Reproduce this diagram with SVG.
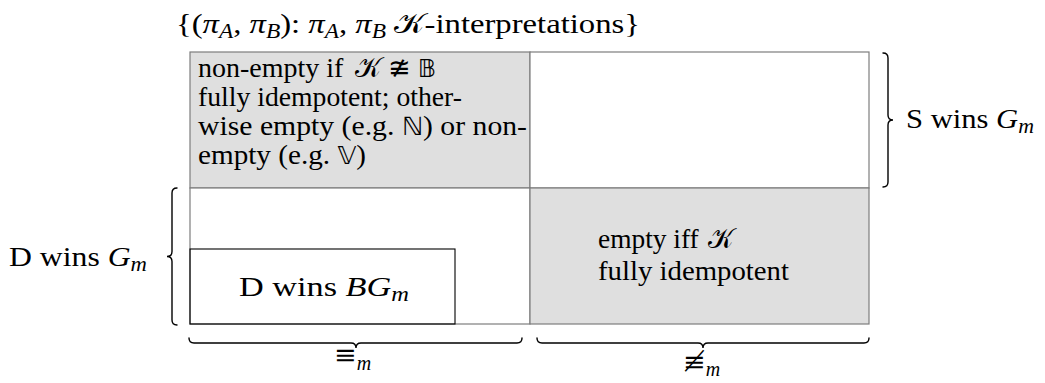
<svg xmlns="http://www.w3.org/2000/svg" width="1045" height="383" viewBox="0 0 1045 383">
<style>
text { font-family: "Liberation Serif", "DejaVu Serif", serif; font-size: 28px; fill: #000; }
.i { font-style: italic; }
.sub { font-size: 20px; font-style: italic; }
.bb { font-family: "DejaVu Sans", "Noto Sans", sans-serif; font-size: 25px; }
.cal { font-family: "DejaVu Serif", "DejaVu Sans", serif; font-style: normal; }
.sym { font-family: "DejaVu Serif", "DejaVu Sans", serif; font-size: 27px; }
.cell { stroke: #7d7d7d; stroke-width: 1.2; }
.gray { fill: #dfdfdf; }
.white { fill: #ffffff; }
.inner { fill: none; stroke: #000; stroke-width: 1.1; }
.brace { fill: none; stroke: #000; stroke-width: 1.4; stroke-linecap: round; }
</style>

<g id="title">
<text x="176" y="33" textLength="464" lengthAdjust="spacingAndGlyphs">{(<tspan class="i">π</tspan><tspan class="sub" dy="5">A</tspan><tspan dy="-5">, </tspan><tspan class="i">π</tspan><tspan class="sub" dy="5">B</tspan><tspan dy="-5">): </tspan><tspan class="i">π</tspan><tspan class="sub" dy="5">A</tspan><tspan dy="-5">, </tspan><tspan class="i">π</tspan><tspan class="sub" dy="5">B</tspan><tspan dy="-5"> </tspan><tspan class="cal">𝒦</tspan>-interpretations}</text>
</g>

<g id="cell-tl">
<rect class="cell gray" x="190" y="52" width="340" height="136"/>
<text x="198" y="77">non-empty if</text>
<text x="355" y="77"><tspan class="cal">𝒦</tspan> <tspan class="sym">≇</tspan> <tspan class="bb">𝔹</tspan></text>
<text x="198" y="106" textLength="264" lengthAdjust="spacingAndGlyphs">fully idempotent; other-</text>
<text x="198" y="135" textLength="329" lengthAdjust="spacingAndGlyphs">wise empty (e.g. <tspan class="bb">ℕ</tspan>) or non-</text>
<text x="198" y="164" textLength="168" lengthAdjust="spacingAndGlyphs">empty (e.g. <tspan class="bb">𝕍</tspan>)</text>
</g>

<g id="cell-tr">
<rect class="cell white" x="530" y="52" width="339" height="136"/>
</g>

<g id="cell-bl">
<rect class="cell white" x="190" y="188" width="340" height="136"/>
</g>

<g id="cell-br">
<rect class="cell gray" x="530" y="188" width="339" height="136"/>
<text x="598" y="248" textLength="135" lengthAdjust="spacingAndGlyphs">empty iff <tspan class="cal" dx="2">𝒦</tspan></text>
<text x="598" y="280" textLength="191" lengthAdjust="spacingAndGlyphs">fully idempotent</text>
</g>

<g id="d-wins-bg">
<rect class="inner" x="190" y="249" width="265" height="75"/>
<text x="239" y="296" textLength="170" lengthAdjust="spacingAndGlyphs">D wins <tspan class="i">BG</tspan><tspan class="sub" dy="5">m</tspan></text>
</g>

<g id="label-s">
<text x="906" y="128" textLength="128" lengthAdjust="spacingAndGlyphs">S wins <tspan class="i">G</tspan><tspan class="sub" dy="5">m</tspan></text>
</g>

<g id="label-d">
<text x="9" y="266" textLength="138" lengthAdjust="spacingAndGlyphs">D wins <tspan class="i">G</tspan><tspan class="sub" dy="5">m</tspan></text>
</g>

<g id="label-eq">
<text x="334" y="364"><tspan class="sym">≡</tspan><tspan class="sub" dy="6">m</tspan></text>
</g>

<g id="label-neq">
<text x="683" y="371"><tspan class="sym">≢</tspan><tspan class="sub" dy="5">m</tspan></text>
</g>

<g id="connectors">
<path class="brace" d="M 883 53 Q 888 53 888 58 L 888 115 Q 888 120 893 120 Q 888 120 888 125 L 888 182 Q 888 187 883 187"/>
<path class="brace" d="M 177 188 Q 172 188 172 193 L 172 251.5 Q 172 256.5 167 256.5 Q 172 256.5 172 261.5 L 172 320 Q 172 325 177 325"/>
<path class="brace" d="M 189 338 Q 189 343 194 343 L 351 343 Q 356 343 356 348 Q 356 343 361 343 L 517 343 Q 522 343 522 338"/>
<path class="brace" d="M 537 338 Q 537 343 542 343 L 698 343 Q 703 343 703 348 Q 703 343 708 343 L 864 343 Q 869 343 869 338"/>
</g>
</svg>
